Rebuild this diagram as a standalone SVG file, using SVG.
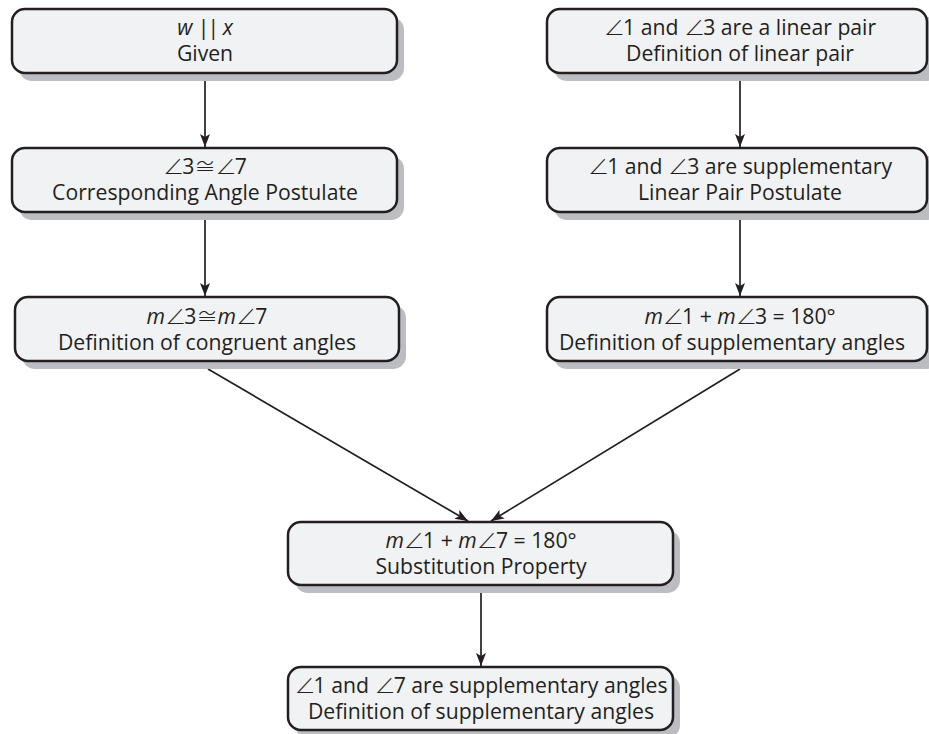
<svg xmlns="http://www.w3.org/2000/svg" width="929" height="734" viewBox="0 0 929 734">
<style>
.box{fill:#f1f2f3;stroke:#231f20;stroke-width:2.5}
.sh{fill:#bcbdc0}
text{font-family:"Open Sans","DejaVu Sans",sans-serif;font-size:21.2px;fill:#231f20;text-anchor:middle}
.i{font-style:italic}
.a{font-family:"Noto Sans CJK JP","DejaVu Sans",sans-serif;font-weight:300;letter-spacing:-2px}
.q{font-family:"Noto Sans CJK JP","DejaVu Sans",sans-serif;font-weight:300}
.c{stroke:#231f20;stroke-width:1.7;fill:none;marker-end:url(#ah)}
</style>
<defs>
<marker id="ah" viewBox="0 0 13 10" refX="13" refY="5" markerWidth="13" markerHeight="10" markerUnits="userSpaceOnUse" orient="auto">
<path d="M0,0 L13,5 L0,10 L3,5 Z" fill="#231f20"/>
</marker>
</defs>
<rect width="929" height="734" fill="#ffffff"/>
<g id="connectors">
<line class="c" x1="205" y1="81" x2="205" y2="147"/>
<line class="c" x1="205" y1="220" x2="205" y2="296"/>
<line class="c" x1="740" y1="81" x2="740" y2="147"/>
<line class="c" x1="740" y1="220" x2="740" y2="296"/>
<line class="c" x1="208" y1="369" x2="468" y2="521"/>
<line class="c" x1="740" y1="369" x2="491" y2="521"/>
<line class="c" x1="481" y1="593" x2="481" y2="666"/>
</g>
<g id="n1">
<rect class="sh" x="19" y="17" width="385" height="64" rx="13"/>
<rect class="box" x="12" y="9" width="385" height="64" rx="13"/>
<text x="205" y="35"><tspan class="i">w</tspan> <tspan letter-spacing="-2">||</tspan> <tspan class="i">x</tspan></text>
<text x="205" y="61">Given</text>
</g>
<g id="n2">
<rect class="sh" x="554" y="17" width="385" height="64" rx="13"/>
<rect class="box" x="547" y="9" width="380" height="64" rx="13"/>
<text x="740" y="35"><tspan class="a">∠</tspan>1 and <tspan class="a">∠</tspan>3 are a linear pair</text>
<text x="740" y="61">Definition of linear pair</text>
</g>
<g id="n3">
<rect class="sh" x="19" y="156" width="385" height="64" rx="13"/>
<rect class="box" x="12" y="148" width="385" height="64" rx="13"/>
<text x="205" y="174"><tspan class="a">∠</tspan>3<tspan class="q">≅</tspan><tspan class="a">∠</tspan>7</text>
<text x="205" y="200">Corresponding Angle Postulate</text>
</g>
<g id="n4">
<rect class="sh" x="554" y="156" width="385" height="64" rx="13"/>
<rect class="box" x="547" y="148" width="380" height="64" rx="13"/>
<text x="740" y="174"><tspan class="a">∠</tspan>1 and <tspan class="a">∠</tspan>3 are supplementary</text>
<text x="740" y="200">Linear Pair Postulate</text>
</g>
<g id="n5">
<rect class="sh" x="22" y="305" width="384" height="64" rx="13"/>
<rect class="box" x="15" y="297" width="384" height="64" rx="13"/>
<text x="207" y="324"><tspan class="i">m</tspan><tspan class="a">∠</tspan>3<tspan class="q">≅</tspan><tspan class="i">m</tspan><tspan class="a">∠</tspan>7</text>
<text x="207" y="350">Definition of congruent angles</text>
</g>
<g id="n6">
<rect class="sh" x="554" y="305" width="385" height="64" rx="13"/>
<rect class="box" x="547" y="297" width="380" height="64" rx="13"/>
<text x="740" y="324"><tspan class="i">m</tspan><tspan class="a">∠</tspan>1 + <tspan class="i">m</tspan><tspan class="a">∠</tspan>3 = 180°</text>
<text x="732" y="350">Definition of supplementary angles</text>
</g>
<g id="n7">
<rect class="sh" x="295" y="530" width="385" height="63" rx="13"/>
<rect class="box" x="288" y="522" width="385" height="63" rx="13"/>
<text x="481" y="548"><tspan class="i">m</tspan><tspan class="a">∠</tspan>1 + <tspan class="i">m</tspan><tspan class="a">∠</tspan>7 = 180°</text>
<text x="481" y="574">Substitution Property</text>
</g>
<g id="n8">
<rect class="sh" x="295" y="675" width="385" height="63" rx="13"/>
<rect class="box" x="288" y="667" width="385" height="63" rx="13"/>
<text x="481" y="693"><tspan class="a">∠</tspan>1 and <tspan class="a">∠</tspan>7 are supplementary angles</text>
<text x="481" y="719">Definition of supplementary angles</text>
</g>
</svg>
